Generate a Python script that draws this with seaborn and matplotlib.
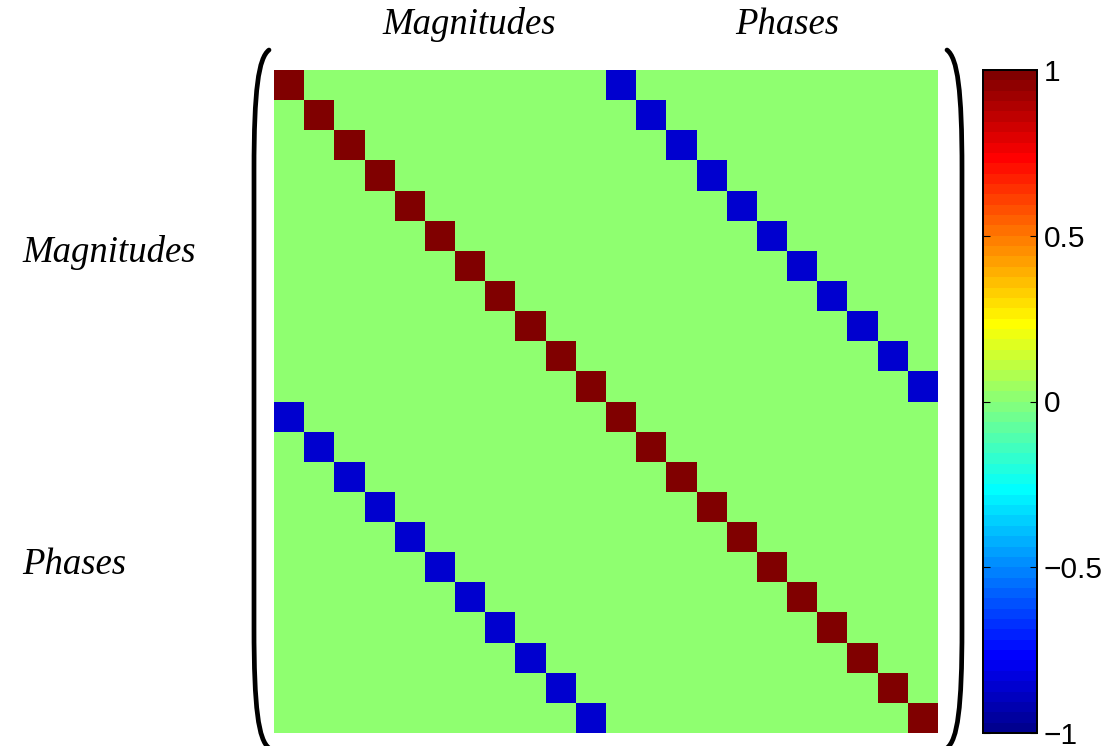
import numpy as np
import matplotlib
matplotlib.use("Agg")
import matplotlib.pyplot as plt
from matplotlib.colors import ListedColormap
from matplotlib.path import Path
from matplotlib.patches import PathPatch
import seaborn as sns

# Block structure of the matrix: magnitudes and phases, 11 entries each
block_size = 11
self_coupling = 1.0      # diagonal of the diagonal blocks
cross_coupling = -0.87   # diagonal of the off-diagonal blocks
block_labels = ["Magnitudes", "Phases"]
cbar_ticks = [-1, -0.5, 0, 0.5, 1]
cbar_ticklabels = ["\u22121", "\u22120.5", "0", "0.5", "1"]


def matlab_jet(m=64):
    n = int(np.ceil(m / 4))
    u = np.concatenate([np.arange(1, n + 1) / n, np.ones(n - 1), np.arange(n, 0, -1) / n])
    g = int(np.ceil(n / 2)) - (1 if m % 4 == 1 else 0) + np.arange(1, len(u) + 1)
    r = g + n
    b = g - n
    g = g[g <= m]
    r = r[r <= m]
    b = b[b >= 1]
    J = np.zeros((m, 3))
    J[r - 1, 0] = u[: len(r)]
    J[g - 1, 1] = u[: len(g)]
    J[b - 1, 2] = u[len(u) - len(b):]
    return ListedColormap(J)


eye = np.eye(block_size)
matrix = np.block([[self_coupling * eye, cross_coupling * eye],
                   [cross_coupling * eye, self_coupling * eye]])

W, H = 1111, 746
fig = plt.figure(figsize=(W / 100, H / 100), dpi=100)


def fx(px):
    return px / W


def fy(py):
    return 1 - py / H


ax = fig.add_axes([fx(274), fy(733), fx(938) - fx(274), fy(70) - fy(733)])
cax = fig.add_axes([fx(983), fy(733), fx(1037) - fx(983), fy(70) - fy(733)])

sns.heatmap(matrix, ax=ax, cbar_ax=cax, cmap=matlab_jet(64), vmin=-1, vmax=1,
            xticklabels=False, yticklabels=False, cbar=True, linewidths=0)
ax.set_xticks([])
ax.set_yticks([])

# Colorbar styling
cax.set_yticks(cbar_ticks)
cax.set_yticklabels(cbar_ticklabels, fontsize=21.5, family="Liberation Sans")
cax.tick_params(axis="y", direction="in", length=5, width=0.8, left=True, right=True,
                labelleft=False, labelright=True, pad=5)
for sp in cax.spines.values():
    sp.set_visible(True)
    sp.set_linewidth(1.3)
    sp.set_color("black")

# Block labels
label_font = dict(family="Liberation Serif", style="italic", fontsize=26.5)
fig.text(fx(469), fy(25), block_labels[0], ha="center", va="center", **label_font)
fig.text(fx(787), fy(25), block_labels[1], ha="center", va="center", **label_font)
fig.text(fx(22), fy(252), block_labels[0], ha="left", va="center", **label_font)
fig.text(fx(22), fy(565), block_labels[1], ha="left", va="center", **label_font)


# Matrix brackets
def bracket(tip_x, side_x, top, bottom):
    pts = [(tip_x, top),
           (side_x + 0.3 * (tip_x - side_x), top + 8), (side_x, top + 40), (side_x, top + 120),
           (side_x, bottom - 120),
           (side_x, bottom - 40), (side_x + 0.3 * (tip_x - side_x), bottom - 8), (tip_x, bottom)]
    codes = [Path.MOVETO,
             Path.CURVE4, Path.CURVE4, Path.CURVE4,
             Path.LINETO,
             Path.CURVE4, Path.CURVE4, Path.CURVE4]
    verts = [(fx(x), fy(y)) for x, y in pts]
    return PathPatch(Path(verts, codes), transform=fig.transFigure, fill=False,
                     lw=3.4, color="black", capstyle="round")


fig.add_artist(bracket(269, 254, 50, 748))
fig.add_artist(bracket(947, 962, 50, 748))

fig.savefig("out.png", dpi=100)
